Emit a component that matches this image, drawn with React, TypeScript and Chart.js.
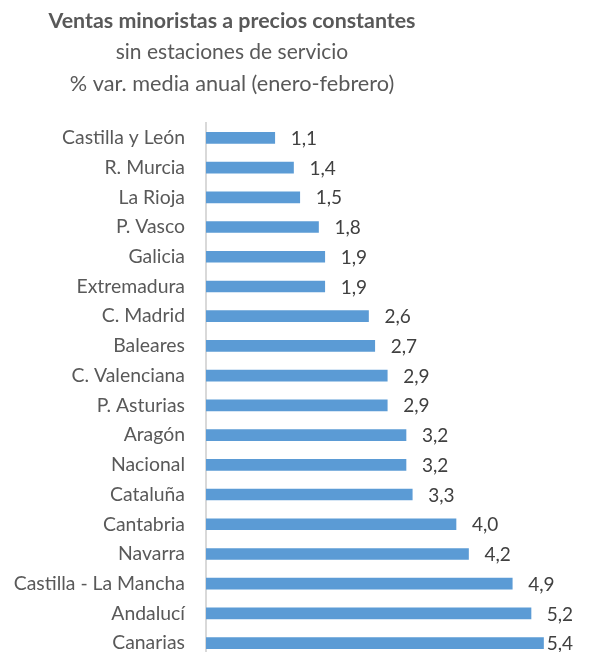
import React, { useEffect, useRef } from "react";
import { Chart, registerables } from "chart.js";

Chart.register(...registerables);

const categories = [
  "Castilla y León",
  "R. Murcia",
  "La Rioja",
  "P. Vasco",
  "Galicia",
  "Extremadura",
  "C. Madrid",
  "Baleares",
  "C. Valenciana",
  "P. Asturias",
  "Aragón",
  "Nacional",
  "Cataluña",
  "Cantabria",
  "Navarra",
  "Castilla - La Mancha",
  "Andalucí",
  "Canarias",
];

const values = [1.1, 1.4, 1.5, 1.8, 1.9, 1.9, 2.6, 2.7, 2.9, 2.9, 3.2, 3.2, 3.3, 4.0, 4.2, 4.9, 5.2, 5.4];

const titleLines = [
  "Ventas minoristas a precios constantes",
  "sin estaciones de servicio",
  "% var. media anual (enero-febrero)",
];

const FONT = "Lato, 'Open Sans', sans-serif";

const titlePlugin = {
  id: "customTitle",
  afterDraw(chart: any) {
    const ctx = chart.ctx;
    ctx.save();
    ctx.fillStyle = "#595959";
    ctx.textAlign = "center";
    ctx.textBaseline = "alphabetic";
    const cx = 232;
    ctx.font = `bold 21.4px ${FONT}`;
    ctx.fillText(titleLines[0], cx, 28);
    ctx.font = `21px ${FONT}`;
    ctx.fillText(titleLines[1], cx, 59);
    ctx.font = `21.7px ${FONT}`;
    ctx.fillText(titleLines[2], cx, 91);
    ctx.restore();
  },
};

const valueLabelPlugin = {
  id: "valueLabels",
  afterDatasetsDraw(chart: any) {
    const ctx = chart.ctx;
    const meta = chart.getDatasetMeta(0);
    const area = chart.chartArea;
    ctx.save();
    ctx.font = `19px ${FONT}`;
    ctx.fillStyle = "#404040";
    ctx.textAlign = "left";
    ctx.textBaseline = "middle";
    meta.data.forEach((bar: any, i: number) => {
      const txt = values[i].toFixed(1).replace(".", ",");
      const w = ctx.measureText(txt).width;
      const x = Math.min(bar.x + 16, area.right - 8 - w);
      ctx.fillText(txt, x, bar.y + 1);
    });
    ctx.restore();
  },
};

export default function App() {
  const ref = useRef<HTMLCanvasElement | null>(null);

  useEffect(() => {
    if (!ref.current) return;
    const chart = new Chart(ref.current, {
      type: "bar",
      data: {
        labels: categories,
        datasets: [
          {
            data: values,
            backgroundColor: "#5B9BD5",
            borderWidth: 0,
            barThickness: 11,
          },
        ],
      },
      options: {
        indexAxis: "y",
        animation: false,
        responsive: false,
        maintainAspectRatio: false,
        layout: { padding: { top: 123, bottom: 4, left: 0, right: 8 } },
        plugins: {
          legend: { display: false },
          title: { display: false },
          tooltip: { enabled: false },
        },
        scales: {
          x: {
            display: false,
            min: 0,
            max: 6,
          },
          y: {
            afterFit(scale: any) {
              scale.width = 206;
              scale.paddingTop = 0;
              scale.paddingBottom = 0;
            },
            grid: { display: false, drawTicks: false },
            border: { display: true, color: "#d9d9d9", width: 2 },
            ticks: {
              padding: 21,
              color: "#595959",
              font: { family: FONT, size: 19.4 },
              autoSkip: false,
            },
          },
        },
      },
      plugins: [titlePlugin, valueLabelPlugin],
    });
    return () => chart.destroy();
  }, []);

  return (
    <div style={{ position: "absolute", left: 0, top: 0, width: 589, height: 652, overflow: "hidden", background: "#fff" }}>
      <canvas ref={ref} width={589} height={662} style={{ display: "block" }} />
    </div>
  );
}
